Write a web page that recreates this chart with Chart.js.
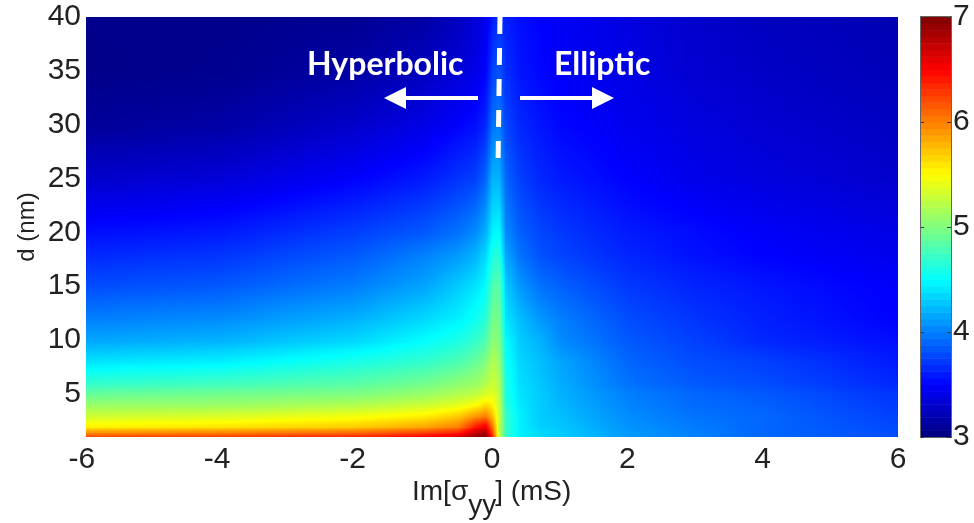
<!DOCTYPE html>
<html>
<head>
<meta charset="utf-8">
<title>Im[σyy] map</title>
<style>
  html, body { margin: 0; padding: 0; background: #fff; }
  canvas { display: block; }
</style>
<script src="https://cdn.jsdelivr.net/npm/chart.js@4"></script>
</head>
<body>
<canvas id="chart" width="974" height="523"></canvas>
<script>
// sigma values along x (mS), denser near the transition at 0
const sigmaValues = [-6, -4, -2, -1, -0.5, -0.25, -0.1, 0, 0.1, 0.2, 0.4, 0.7, 1, 2, 3, 4, 6];
const thicknessValues = [1, 1.5, 2, 3, 4, 5, 6, 8, 10, 12, 15, 18, 20, 25, 30, 35, 40];

// one row per thickness
const fieldValues = [
  [6.25, 6.30, 6.40, 6.55, 6.70, 6.95, 7.00, 6.40, 5.30, 4.70, 4.45, 4.35, 4.30, 4.10, 4.00, 3.90, 3.80],
  [5.90, 5.95, 6.05, 6.20, 6.35, 6.70, 6.80, 6.20, 5.30, 4.70, 4.45, 4.35, 4.30, 4.10, 4.00, 3.90, 3.80],
  [5.55, 5.60, 5.70, 5.85, 6.00, 6.40, 6.55, 6.05, 5.30, 4.70, 4.45, 4.32, 4.28, 4.08, 3.98, 3.90, 3.78],
  [5.30, 5.35, 5.45, 5.55, 5.70, 5.90, 6.00, 5.75, 5.30, 4.70, 4.45, 4.30, 4.25, 4.05, 3.95, 3.90, 3.75],
  [5.10, 5.10, 5.20, 5.30, 5.40, 5.50, 5.65, 5.55, 5.28, 4.65, 4.42, 4.30, 4.22, 4.02, 3.92, 3.88, 3.72],
  [4.90, 4.95, 5.00, 5.10, 5.20, 5.25, 5.35, 5.40, 5.25, 4.60, 4.40, 4.30, 4.20, 4.00, 3.90, 3.85, 3.70],
  [4.70, 4.75, 4.85, 4.95, 5.05, 5.10, 5.20, 5.30, 5.20, 4.60, 4.38, 4.28, 4.18, 3.95, 3.85, 3.80, 3.65],
  [4.40, 4.45, 4.60, 4.70, 4.80, 4.90, 5.00, 5.20, 5.10, 4.55, 4.35, 4.25, 4.15, 3.90, 3.80, 3.75, 3.60],
  [4.15, 4.20, 4.35, 4.50, 4.60, 4.70, 4.80, 5.05, 5.00, 4.50, 4.30, 4.20, 4.05, 3.85, 3.75, 3.65, 3.55],
  [4.00, 4.05, 4.20, 4.35, 4.45, 4.55, 4.65, 4.95, 4.95, 4.40, 4.25, 4.10, 4.00, 3.80, 3.70, 3.62, 3.50],
  [3.80, 3.85, 4.00, 4.15, 4.30, 4.40, 4.50, 4.80, 4.85, 4.30, 4.10, 3.95, 3.88, 3.72, 3.64, 3.58, 3.48],
  [3.65, 3.70, 3.85, 4.00, 4.10, 4.20, 4.35, 4.60, 4.65, 4.15, 3.95, 3.82, 3.76, 3.64, 3.56, 3.50, 3.43],
  [3.55, 3.60, 3.75, 3.85, 3.95, 4.05, 4.20, 4.45, 4.50, 4.05, 3.88, 3.78, 3.72, 3.60, 3.54, 3.48, 3.40],
  [3.30, 3.35, 3.50, 3.60, 3.70, 3.75, 3.90, 4.20, 4.20, 3.90, 3.75, 3.65, 3.60, 3.50, 3.42, 3.37, 3.30],
  [3.10, 3.15, 3.30, 3.40, 3.50, 3.55, 3.65, 3.95, 4.00, 3.78, 3.65, 3.58, 3.52, 3.44, 3.37, 3.32, 3.26],
  [3.04, 3.06, 3.15, 3.25, 3.35, 3.40, 3.50, 3.75, 3.82, 3.68, 3.58, 3.52, 3.48, 3.40, 3.32, 3.28, 3.22],
  [3.05, 3.05, 3.08, 3.15, 3.25, 3.35, 3.42, 3.60, 3.70, 3.62, 3.55, 3.50, 3.46, 3.38, 3.30, 3.25, 3.20]
];

const xTicks = [-6, -4, -2, 0, 2, 4, 6];
const yTicks = [5, 10, 15, 20, 25, 30, 35, 40];
const colorTicks = [3, 4, 5, 6, 7];

// dashed boundary between the two regimes
const boundaryX = [0.118, 0.09];
const boundaryD = [40, 26.7];

const tickFont = { family: '"Liberation Sans", Arial, sans-serif', size: 30 };
const textColor = '#222';

// jet colour map, t in 0..1
function jet(t) {
  const ramp = v => Math.max(0, Math.min(1, v));
  return [
    Math.round(255 * ramp(1.5 - Math.abs(4 * t - 3))),
    Math.round(255 * ramp(1.5 - Math.abs(4 * t - 2))),
    Math.round(255 * ramp(1.5 - Math.abs(4 * t - 1)))
  ];
}

let fieldImage = null;

function buildFieldImage(chart) {
  const { left, top, right, bottom } = chart.chartArea;
  const w = Math.round(right - left);
  const h = Math.round(bottom - top);
  const off = document.createElement('canvas');
  off.width = w;
  off.height = h;
  const octx = off.getContext('2d');
  const img = octx.createImageData(w, h);
  const xs = chart.scales.x;
  const ys = chart.scales.y;

  // shade between neighbouring grid nodes, like MATLAB's shading interp
  for (let j = 0; j < thicknessValues.length - 1; j++) {
    const py0 = ys.getPixelForValue(thicknessValues[j]);
    const py1 = ys.getPixelForValue(thicknessValues[j + 1]);
    for (let i = 0; i < sigmaValues.length - 1; i++) {
      const px0 = xs.getPixelForValue(sigmaValues[i]);
      const px1 = xs.getPixelForValue(sigmaValues[i + 1]);
      for (let py = Math.floor(py1); py <= Math.ceil(py0); py++) {
        const fy = Math.max(0, Math.min(1, (py0 - py) / (py0 - py1)));
        for (let px = Math.floor(px0); px <= Math.ceil(px1); px++) {
          const ix = px - Math.round(left);
          const iy = py - Math.round(top);
          if (ix < 0 || iy < 0 || ix >= w || iy >= h) continue;
          const fx = Math.max(0, Math.min(1, (px - px0) / (px1 - px0)));
          const low = fieldValues[j][i] * (1 - fx) + fieldValues[j][i + 1] * fx;
          const high = fieldValues[j + 1][i] * (1 - fx) + fieldValues[j + 1][i + 1] * fx;
          const c = jet((low * (1 - fy) + high * fy - 3) / 4);
          const k = (iy * w + ix) * 4;
          img.data[k] = c[0];
          img.data[k + 1] = c[1];
          img.data[k + 2] = c[2];
          img.data[k + 3] = 255;
        }
      }
    }
  }
  octx.putImageData(img, 0, 0);
  return off;
}

const heatmapPlugin = {
  id: 'heatmap',
  beforeDatasetsDraw(chart) {
    const ctx = chart.ctx;
    const area = chart.chartArea;
    if (!fieldImage) fieldImage = buildFieldImage(chart);
    ctx.drawImage(fieldImage, Math.round(area.left), Math.round(area.top));

    // colour bar, 64 levels
    const cs = chart.scales.colorbar;
    const barLeft = 921, barWidth = 30;
    for (let i = 0; i < 64; i++) {
      const c = jet((i + 0.5) / 64);
      const y0 = cs.getPixelForValue(3 + 4 * i / 64);
      const y1 = cs.getPixelForValue(3 + 4 * (i + 1) / 64);
      ctx.fillStyle = `rgb(${c[0]},${c[1]},${c[2]})`;
      ctx.fillRect(barLeft, y1, barWidth, y0 - y1 + 0.5);
    }
    ctx.strokeStyle = '#666';
    ctx.lineWidth = 1;
    ctx.strokeRect(barLeft - 0.5, area.top - 0.5, barWidth + 1, area.bottom - area.top + 1);
    colorTicks.forEach(v => {
      const y = Math.round(cs.getPixelForValue(v)) + 0.5;
      ctx.beginPath();
      ctx.moveTo(barLeft, y); ctx.lineTo(barLeft + 3, y);
      ctx.moveTo(barLeft + barWidth - 4, y); ctx.lineTo(barLeft + barWidth, y);
      ctx.strokeStyle = '#333';
      ctx.stroke();
    });
  },
  afterDatasetsDraw(chart) {
    const ctx = chart.ctx;
    ctx.save();
    ctx.fillStyle = '#fff';
    ctx.font = 'bold 32px Lato, "Open Sans", sans-serif';
    ctx.textBaseline = 'alphabetic';
    ctx.textAlign = 'left';
    ctx.fillText('Hyperbolic', 307, 75);
    ctx.fillText('Elliptic', 554, 75);
    drawArrow(ctx, 478, 384, 98);
    drawArrow(ctx, 520, 614, 98);

    // x axis title has a subscript, so it is put together by hand
    ctx.fillStyle = textColor;
    ctx.font = '28px "Liberation Sans", Arial, sans-serif';
    let x = 412;
    const base = 500;
    ctx.fillText('Im[σ', x, base);
    x += ctx.measureText('Im[σ').width;
    ctx.fillText('yy', x, base + 14);
    x += ctx.measureText('yy').width;
    ctx.fillText('] (mS)', x - 1, base);
    ctx.restore();
  }
};

function drawArrow(ctx, from, to, y) {
  const dir = to > from ? 1 : -1;
  const headStart = to - dir * 22;
  ctx.fillRect(Math.min(from, headStart), y - 2, Math.abs(headStart - from), 4);
  ctx.beginPath();
  ctx.moveTo(to, y);
  ctx.lineTo(headStart, y - 11);
  ctx.lineTo(headStart, y + 11);
  ctx.closePath();
  ctx.fill();
}

// the plot box is fixed, tick label overhang must not shrink it
function noOverhang(s) {
  s.paddingTop = 0;
  s.paddingBottom = 0;
  s.paddingLeft = 0;
  s.paddingRight = 0;
}

new Chart(document.getElementById('chart').getContext('2d'), {
  type: 'scatter',
  data: {
    datasets: [{
      data: boundaryX.map((x, i) => ({ x: x, y: boundaryD[i] })),
      showLine: true,
      borderColor: '#fff',
      borderWidth: 5,
      borderDash: [17, 14],
      pointRadius: 0
    }]
  },
  options: {
    responsive: false,
    animation: false,
    layout: { padding: { top: 17 } },
    plugins: { legend: { display: false }, tooltip: { enabled: false } },
    scales: {
      x: {
        type: 'linear',
        min: -6,
        max: 6,
        afterBuildTicks: s => { s.ticks = xTicks.map(v => ({ value: v })); },
        afterFit: s => { s.height = 86; noOverhang(s); },
        grid: { display: false, drawTicks: false },
        border: { display: false },
        ticks: {
          font: tickFont,
          color: textColor,
          padding: 5,
          maxRotation: 0,
          autoSkip: false,
          callback: v => (v < 0 ? v + ' ' : '' + v) // hyphen pushes the label left in the original
        }
      },
      y: {
        type: 'linear',
        min: 1,
        max: 40,
        afterBuildTicks: s => { s.ticks = yTicks.map(v => ({ value: v })); },
        afterFit: s => { s.width = 86; noOverhang(s); },
        grid: { display: false, drawTicks: false },
        border: { display: false },
        title: { display: true, text: 'd (nm)', font: { family: tickFont.family, size: 24 }, color: textColor, padding: { top: 13, bottom: 0 } },
        ticks: { font: tickFont, color: textColor, padding: 5, autoSkip: false }
      },
      colorbar: {
        axis: 'y',
        type: 'linear',
        position: 'right',
        min: 3,
        max: 7,
        afterBuildTicks: s => { s.ticks = colorTicks.map(v => ({ value: v })); },
        afterFit: s => { s.width = 76; noOverhang(s); },
        grid: { display: false, drawTicks: false },
        border: { display: false },
        ticks: { font: tickFont, color: textColor, padding: 55, autoSkip: false }
      }
    }
  },
  plugins: [heatmapPlugin]
});
</script>
</body>
</html>
